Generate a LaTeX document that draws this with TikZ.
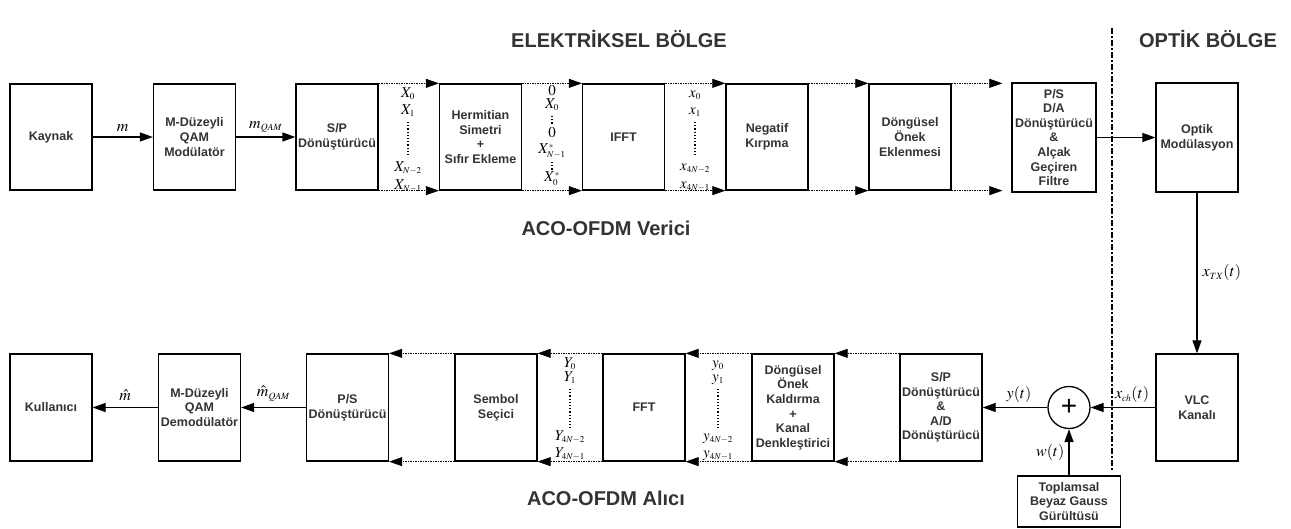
\documentclass[tikz,border=0pt]{standalone}
\usepackage{mathptmx}
\usepackage{fontspec}
\setmainfont{Liberation Sans}
\usetikzlibrary{arrows.meta}
\DeclareMathSizes{16}{16}{9.5}{7}
\DeclareMathSizes{15}{15}{9}{7}

\newcommand\blokfont{\fontsize{12.5}{14.6}\selectfont\bfseries}
\newcommand\baslikfont{\fontsize{20}{24}\selectfont\bfseries}
\newcommand\isaretfont{\fontsize{16}{18}\selectfont}
\newcommand\dizifont{\fontsize{15}{17}\selectfont}

\tikzset{
  blok/.style={draw,line width=1.3pt,minimum width=82pt,minimum height=106pt,
    align=center,font=\blokfont,text=black!80,inner sep=1pt},
  ok/.style={-{Triangle[length=13pt,width=9pt]},line width=1.3pt},
  noktaok/.style={-{Triangle[length=13pt,width=9pt]},line width=0.7pt,
    dash pattern=on 1.5pt off 1pt},
  sutun/.style={dotted,line width=1.2pt},
  isaret/.style={font=\isaretfont,inner sep=0pt},
  dizi/.style={font=\dizifont,inner sep=0pt,text height=7pt,text depth=2pt},
  baslik/.style={font=\baslikfont,text=black!80}
}

\begin{document}
\begin{tikzpicture}[x=1pt,y=-1pt]
\useasboundingbox (0,0) rectangle (1291,529);
% basliklar
\node[baslik] (elek) at (619,39) {ELEKTRİKSEL BÖLGE};
\node[baslik] (opt) at (1208,39) {OPTİK BÖLGE};
\node[baslik] (verici) at (606,228) {ACO-OFDM Verici};
\node[baslik] (alici) at (606,498) {ACO-OFDM Alıcı};
\draw[line width=1.8pt,dash pattern=on 6pt off 2pt on 2pt off 2pt] (1112,28) -- (1112,472);

% verici
\node[blok] (kaynak) at (51,137) {Kaynak};
\node[blok] (qammod) at (194.5,137) {M-Düzeyli\\QAM\\Modülatör};
\node[blok] (sp) at (337,137) {S/P\\Dönüştürücü};
\node[blok] (herm) at (480.5,137) {Hermitian\\Simetri\\+\\Sıfır Ekleme};
\node[blok] (ifft) at (623.5,137) {IFFT};
\node[blok] (negatif) at (767,137) {Negatif\\Kırpma};
\node[blok] (cp) at (910,137) {Döngüsel\\Önek\\Eklenmesi};
\node[blok,minimum width=84pt,minimum height=109pt] (psda) at (1054,137.5)
  {P/S\\D/A\\Dönüştürücü\\\&\\Alçak\\Geçiren\\Filtre};
\node[blok,minimum height=109pt] (optik) at (1197,137.5) {Optik\\Modülasyon};

\draw[ok] (kaynak) -- node[above=5pt,isaret]{$m$} (qammod);
\draw[ok] (qammod) -- node[above=4pt,isaret]{$m_{QAM}$} (sp);
\foreach \a/\b in {sp/herm,herm/ifft,ifft/negatif,negatif/cp}{
  \draw[noktaok] (\a.north east) -- (\b.north west);
  \draw[noktaok] (\a.south east) -- (\b.south west);
}
\draw[noktaok,shorten >=9pt] (cp.north east) -- (cp.north east -| psda.west);
\draw[noktaok,shorten >=9pt] (cp.south east) -- (cp.south east -| psda.west);
\draw[ok] (psda) -- (optik);

% S/P cikislari
\node[dizi] (X0) at (408,95) {$X_0$};
\node[dizi] (X1) at (408,112) {$X_1$};
\node[dizi] (XN2) at (408,169) {$X_{N-2}$};
\node[dizi] (XN1) at (408,187) {$X_{N-1}$};
\draw[sutun] (408,122) -- (408,156);
% hermitian cikislari
\node[dizi] (h0) at (552,93) {$0$};
\node[dizi] (hX0) at (552,106) {$X_0$};
\node[dizi] (h0b) at (552,135) {$0$};
\node[dizi] (hXN1) at (552,151) {$X^{*}_{N-1}$};
\node[dizi] (hX0b) at (552,179) {$X^{*}_{0}$};
\draw[sutun] (552,116) -- (552,125);
\draw[sutun] (552,162) -- (552,170);
% IFFT cikislari
\node[dizi] (x0) at (695,95) {$x_0$};
\node[dizi] (x1) at (695,112) {$x_1$};
\node[dizi] (x4N2) at (695,168) {$x_{4N-2}$};
\node[dizi] (x4N1) at (695,186) {$x_{4N-1}$};
\draw[sutun] (695,122) -- (695,156);

% kanal
\node[blok,minimum height=107pt] (vlc) at (1197,407.5) {VLC\\Kanalı};
\node[draw,circle,line width=1.3pt,minimum size=42pt,inner sep=0pt,
  font=\fontsize{28}{28}\selectfont] (toplam) at (1069,407.5) {+};
\node[blok,minimum width=103pt,minimum height=51pt] (gurultu) at (1069,501.5)
  {Toplamsal\\Beyaz Gauss\\Gürültüsü};
\draw[ok] (optik) -- node[right=5pt,isaret]{$x_{TX}(t)$} (vlc);
\draw[ok] (vlc) -- node[above=4pt,xshift=9pt,isaret]{$x_{ch}(t)$} (toplam);
\draw[ok] (gurultu) -- node[left=4pt,isaret]{$w(t)$} (toplam);

% alici
\node[blok,minimum height=107pt] (kullanici) at (51,407.5) {Kullanıcı};
\node[blok,minimum height=107pt] (qamdemod) at (199.5,407.5) {M-Düzeyli\\QAM\\Demodülatör};
\node[blok,minimum height=107pt] (ps) at (347.5,407.5) {P/S\\Dönüştürücü};
\node[blok,minimum height=107pt] (sembol) at (496,407.5) {Sembol\\Seçici};
\node[blok,minimum height=107pt] (fft) at (644,407.5) {FFT};
\node[blok,minimum height=107pt] (cprem) at (793,407.5)
  {Döngüsel\\Önek\\Kaldırma\\+\\Kanal\\Denkleştirici};
\node[blok,minimum height=107pt] (spad) at (941,407.5)
  {S/P\\Dönüştürücü\\\&\\A/D\\Dönüştürücü};

\draw[ok] (toplam) -- node[above=4pt,xshift=4pt,isaret]{$y(t)$} (spad);
\foreach \a/\b in {spad/cprem,cprem/fft,fft/sembol,sembol/ps}{
  \draw[noktaok] (\a.north west) -- (\b.north east);
  \draw[noktaok] (\a.south west) -- (\b.south east);
}
\draw[ok] (ps) -- node[above=6pt,isaret]{$\hat{m}_{QAM}$} (qamdemod);
\draw[ok] (qamdemod) -- node[above=6pt,isaret]{$\hat{m}$} (kullanici);

% FFT cikislari
\node[dizi] (Y0) at (570,365) {$Y_0$};
\node[dizi] (Y1) at (570,379) {$Y_1$};
\node[dizi] (Y4N2) at (570,438) {$Y_{4N-2}$};
\node[dizi] (Y4N1) at (570,455) {$Y_{4N-1}$};
\draw[sutun] (570,389) -- (570,428);
% onek kaldirma cikislari
\node[dizi] (y0) at (718,365) {$y_0$};
\node[dizi] (y1) at (718,379) {$y_1$};
\node[dizi] (y4N2) at (718,438) {$y_{4N-2}$};
\node[dizi] (y4N1) at (718,455) {$y_{4N-1}$};
\draw[sutun] (718,389) -- (718,428);
\end{tikzpicture}
\end{document}
